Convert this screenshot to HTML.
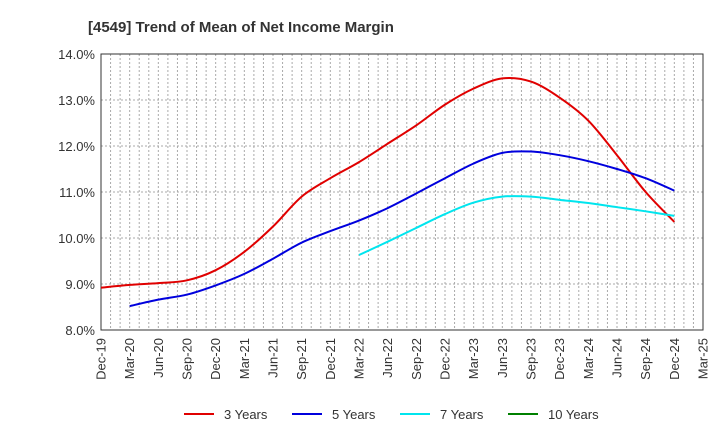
<!DOCTYPE html>
<html><head><meta charset="utf-8"><style>
body{margin:0;background:#fff;font-family:"Liberation Sans",sans-serif}
svg text{font-family:"Liberation Sans",sans-serif}
</style></head><body>
<svg id="c" width="720" height="440">
<text x="88" y="32" font-size="15" font-weight="bold" fill="#333">[4549]  Trend of Mean of Net Income Margin</text>
<g id="grid"></g><g id="axes"></g><g id="series"></g><g id="legend"></g>
</svg>
<script>
const quarters=["Dec-19","Mar-20","Jun-20","Sep-20","Dec-20","Mar-21","Jun-21","Sep-21","Dec-21","Mar-22","Jun-22","Sep-22","Dec-22","Mar-23","Jun-23","Sep-23","Dec-23","Mar-24","Jun-24","Sep-24","Dec-24","Mar-25"];
const yTicks=[8,9,10,11,12,13,14];
const y3=[8.92,8.98,9.02,9.08,9.3,9.7,10.25,10.9,11.3,11.65,12.05,12.45,12.9,13.25,13.47,13.4,13.05,12.55,11.8,11.0,10.35];
const y5=[null,8.52,8.66,8.77,8.97,9.22,9.55,9.9,10.15,10.38,10.65,10.97,11.3,11.62,11.85,11.88,11.8,11.67,11.5,11.3,11.03];
const y7=[null,null,null,null,null,null,null,null,null,9.63,9.92,10.22,10.52,10.77,10.9,10.9,10.83,10.76,10.67,10.58,10.48];
const y10=[];
const L=101,R=703,T=54,B=330,NS="http://www.w3.org/2000/svg";
const xs=i=>L+(R-L)*(i*3)/63, xm=m=>L+(R-L)*m/63, ys=v=>B-(v-8)/6*(B-T);
function mk(p,t,a){const e=document.createElementNS(NS,t);for(const k in a)e.setAttribute(k,a[k]);p.appendChild(e);return e;}
const g=document.getElementById('grid'),ax=document.getElementById('axes'),sg=document.getElementById('series'),lg=document.getElementById('legend');
for(let m=1;m<63;m++){const l=mk(g,'line',{x1:xm(m),x2:xm(m),y1:T,y2:B,stroke:'#aaa','stroke-dasharray':'2,2','stroke-width':1});

}
yTicks.forEach(v=>{const l=mk(g,'line',{x1:L,x2:R,y1:ys(v),y2:ys(v),stroke:'#aaa','stroke-dasharray':'2,2'});


const t=mk(ax,'text',{x:L-6,y:ys(v)+5,'text-anchor':'end','font-size':13,fill:'#333'});t.textContent=v.toFixed(1)+'%';

});
const fr=mk(ax,'rect',{x:L,y:T,width:R-L,height:B-T,fill:'none',stroke:'#333'});


quarters.forEach((q,i)=>{const x=xs(i);const t=mk(ax,'text',{transform:`translate(${x+4.5},${B+8}) rotate(-90)`,'text-anchor':'end','font-size':13,fill:'#333'});t.textContent=q;

});
function path(arr){const p=[];arr.forEach((v,i)=>{if(v!=null)p.push([xs(i),ys(v)]);});if(!p.length)return'';
let d=`M${p[0][0]},${p[0][1]}`;for(let i=0;i<p.length-1;i++){const p0=p[i-1]||p[i],p1=p[i],p2=p[i+1],p3=p[i+2]||p2;
d+=`C${p1[0]+(p2[0]-p0[0])/6},${p1[1]+(p2[1]-p0[1])/6} ${p2[0]-(p3[0]-p1[0])/6},${p2[1]-(p3[1]-p1[1])/6} ${p2[0]},${p2[1]}`;}return d;}
const ser=[["3 Years",y3,"#e00000"],["5 Years",y5,"#0000dd"],["7 Years",y7,"#00e5ee"],["10 Years",y10,"#008000"]];
ser.forEach((s,k)=>{const d=path(s[1]);if(d){const p=mk(sg,'path',{d,fill:'none',stroke:s[2],'stroke-width':2});

}
const lx=[184,292,400,508][k];
const ln=mk(lg,'line',{x1:lx,x2:lx+30,y1:414,y2:414,stroke:s[2],'stroke-width':2});


const t=mk(lg,'text',{x:lx+40,y:419,'font-size':13,fill:'#333'});t.textContent=s[0];

});
</script>
</body></html>
